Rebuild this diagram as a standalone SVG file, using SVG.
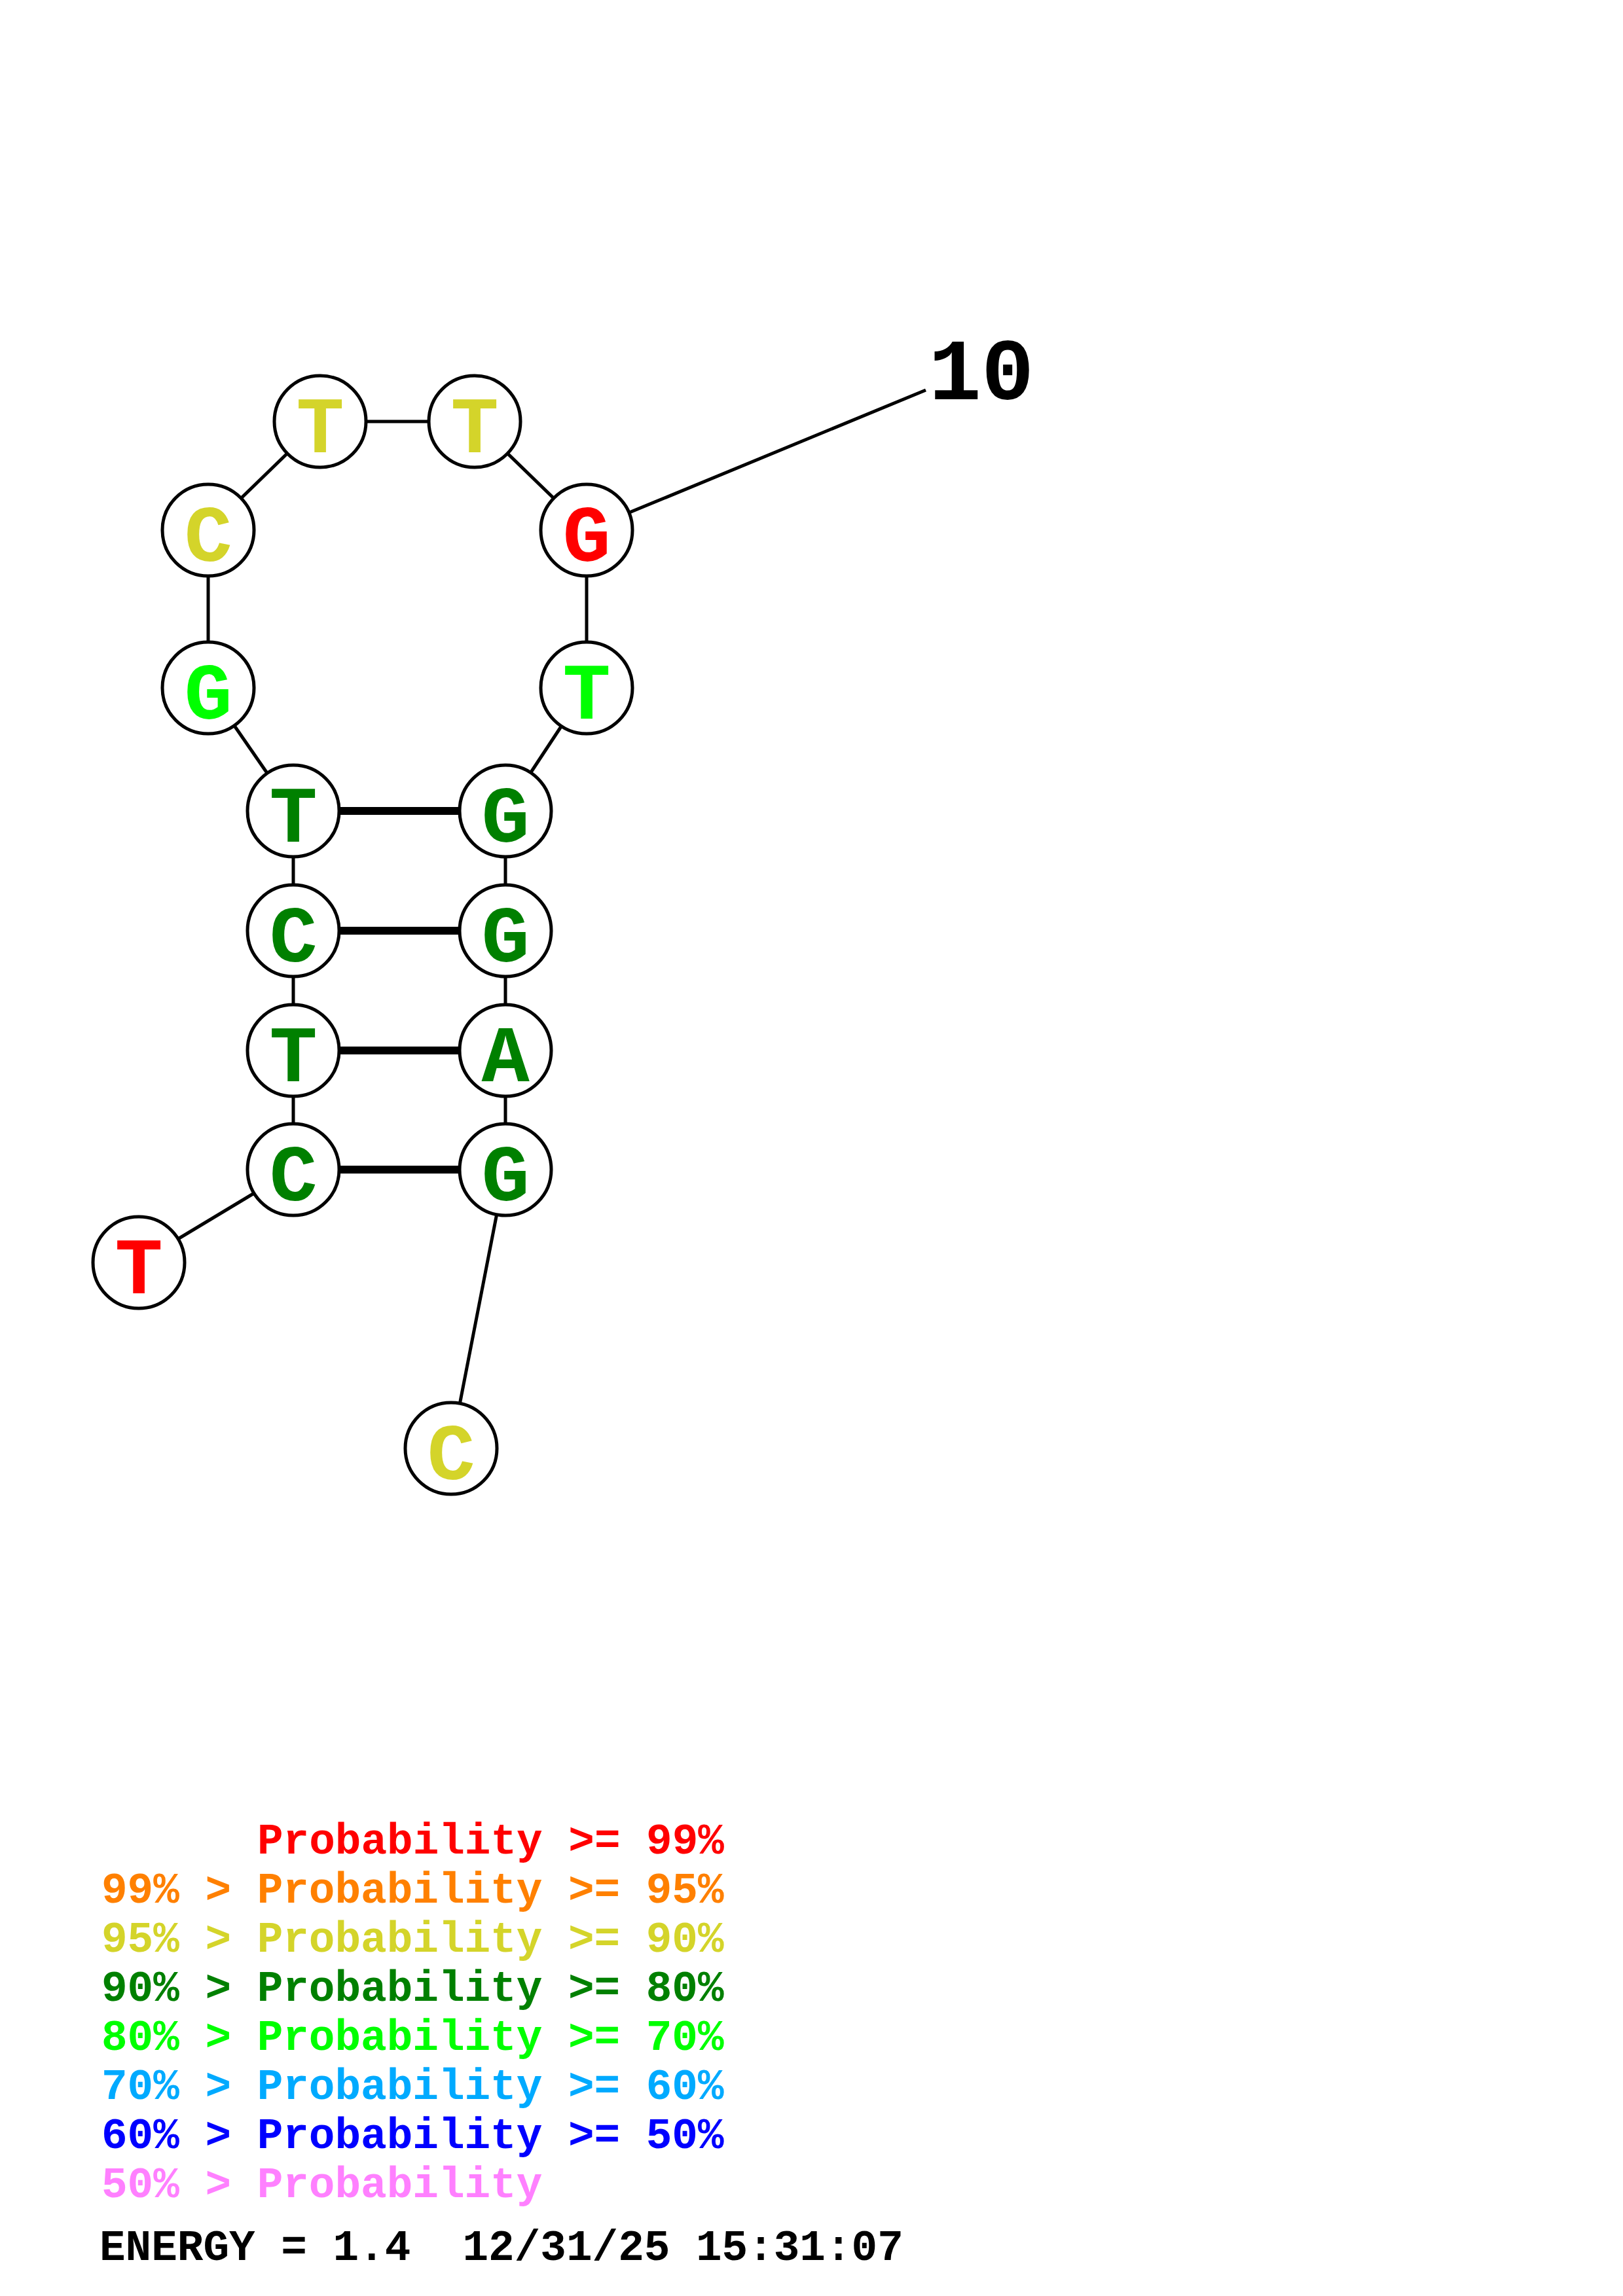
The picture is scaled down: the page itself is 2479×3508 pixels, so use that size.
<svg xmlns="http://www.w3.org/2000/svg" width="2479" height="3508" viewBox="0 0 2479 3508">
<style>
.bb{stroke:#000;stroke-width:5;fill:none}
.bp{stroke:#000;stroke-width:12;fill:none}
.nd circle{fill:#fff;stroke:#000;stroke-width:5}
.nd text{font-family:"Liberation Mono","DejaVu Sans Mono",monospace;font-weight:bold;font-size:122px;text-anchor:middle}
.lg{font-family:"Liberation Mono","DejaVu Sans Mono",monospace;font-weight:bold;font-size:66px}
.r{fill:#FF0000}.o{fill:#FF8000}.y{fill:#D4D42A}.dg{fill:#008000}.g{fill:#00FF00}.c{fill:#00AAFF}.b{fill:#0000FF}.p{fill:#FF80FF}
</style>
<rect width="2479" height="3508" fill="#fff"/>
<g id="connectors">
<line class="bb" x1="212" y1="1929" x2="448" y2="1787"/>
<line class="bb" x1="448" y1="1787" x2="448" y2="1239"/>
<line class="bb" x1="448" y1="1239" x2="318" y2="1051"/>
<line class="bb" x1="318" y1="1051" x2="318" y2="810"/>
<line class="bb" x1="318" y1="810" x2="489" y2="644"/>
<line class="bb" x1="489" y1="644" x2="725" y2="644"/>
<line class="bb" x1="725" y1="644" x2="896" y2="810"/>
<line class="bb" x1="896" y1="810" x2="896" y2="1051"/>
<line class="bb" x1="896" y1="1051" x2="772" y2="1239"/>
<line class="bb" x1="772" y1="1239" x2="772" y2="1787"/>
<line class="bb" x1="772" y1="1787" x2="689" y2="2213"/>
<line class="bb" x1="896" y1="810" x2="1414" y2="596"/>
<line class="bp" x1="448" y1="1239" x2="772" y2="1239"/>
<line class="bp" x1="448" y1="1422" x2="772" y2="1422"/>
<line class="bp" x1="448" y1="1605" x2="772" y2="1605"/>
<line class="bp" x1="448" y1="1787" x2="772" y2="1787"/>
</g>
<g id="n1" class="nd"><circle cx="212" cy="1929" r="70"/><text x="212" y="1976" class="r">T</text></g>
<g id="n2" class="nd"><circle cx="448" cy="1787" r="70"/><text x="448" y="1834" class="dg">C</text></g>
<g id="n3" class="nd"><circle cx="448" cy="1605" r="70"/><text x="448" y="1652" class="dg">T</text></g>
<g id="n4" class="nd"><circle cx="448" cy="1422" r="70"/><text x="448" y="1469" class="dg">C</text></g>
<g id="n5" class="nd"><circle cx="448" cy="1239" r="70"/><text x="448" y="1286" class="dg">T</text></g>
<g id="n6" class="nd"><circle cx="318" cy="1051" r="70"/><text x="318" y="1098" class="g">G</text></g>
<g id="n7" class="nd"><circle cx="318" cy="810" r="70"/><text x="318" y="857" class="y">C</text></g>
<g id="n8" class="nd"><circle cx="489" cy="644" r="70"/><text x="489" y="691" class="y">T</text></g>
<g id="n9" class="nd"><circle cx="725" cy="644" r="70"/><text x="725" y="691" class="y">T</text></g>
<g id="n10" class="nd"><circle cx="896" cy="810" r="70"/><text x="896" y="857" class="r">G</text></g>
<g id="n11" class="nd"><circle cx="896" cy="1051" r="70"/><text x="896" y="1098" class="g">T</text></g>
<g id="n12" class="nd"><circle cx="772" cy="1239" r="70"/><text x="772" y="1286" class="dg">G</text></g>
<g id="n13" class="nd"><circle cx="772" cy="1422" r="70"/><text x="772" y="1469" class="dg">G</text></g>
<g id="n14" class="nd"><circle cx="772" cy="1605" r="70"/><text x="772" y="1652" class="dg">A</text></g>
<g id="n15" class="nd"><circle cx="772" cy="1787" r="70"/><text x="772" y="1834" class="dg">G</text></g>
<g id="n16" class="nd"><circle cx="689" cy="2213" r="70"/><text x="689" y="2260" class="y">C</text></g>
<text x="1499" y="610" font-family="Liberation Mono, DejaVu Sans Mono, monospace" font-weight="bold" font-size="134" text-anchor="middle">10</text>
<g id="legend">
<text class="lg r" x="393" y="2832">Probability &gt;= 99%</text>
<text class="lg o" x="155" y="2907">99% &gt; Probability &gt;= 95%</text>
<text class="lg y" x="155" y="2982">95% &gt; Probability &gt;= 90%</text>
<text class="lg dg" x="155" y="3057">90% &gt; Probability &gt;= 80%</text>
<text class="lg g" x="155" y="3132">80% &gt; Probability &gt;= 70%</text>
<text class="lg c" x="155" y="3207">70% &gt; Probability &gt;= 60%</text>
<text class="lg b" x="155" y="3282">60% &gt; Probability &gt;= 50%</text>
<text class="lg p" x="155" y="3357">50% &gt; Probability</text>
<text class="lg" x="152" y="3453" fill="#000" xml:space="preserve">ENERGY = 1.4  12/31/25 15:31:07</text>
</g>
</svg>
